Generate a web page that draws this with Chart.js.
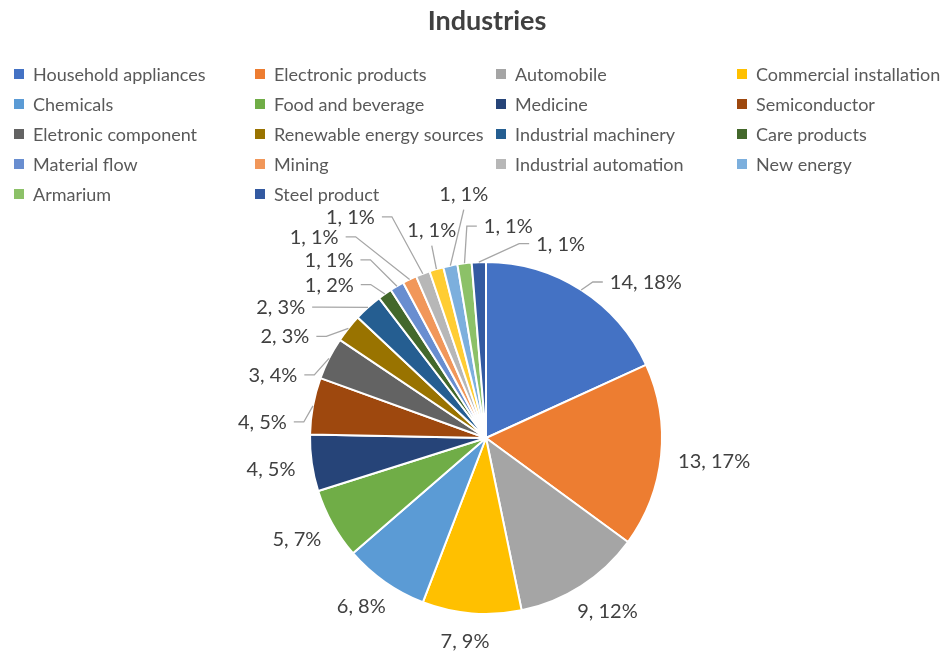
<!DOCTYPE html>
<html>
<head>
<meta charset="utf-8">
<title>Industries</title>
<script src="https://cdn.jsdelivr.net/npm/chart.js@4"></script>
<style>
  html, body { margin: 0; padding: 0; background: #fff; }
  #wrap { width: 944px; height: 655px; position: relative; }
</style>
</head>
<body>
<div id="wrap"><canvas id="pieChart"></canvas></div>
<script>
const industries = [
  "Household appliances", "Electronic products", "Automobile", "Commercial installation",
  "Chemicals", "Food and beverage", "Medicine", "Semiconductor",
  "Eletronic component", "Renewable energy sources", "Industrial machinery", "Care products",
  "Material flow", "Mining", "Industrial automation", "",
  "New energy", "Armarium", "Steel product"
];
const counts = [14, 13, 9, 7, 6, 5, 4, 4, 3, 2, 2, 1, 1, 1, 1, 1, 1, 1, 1];
const shares = ["18%", "17%", "12%", "9%", "8%", "7%", "5%", "5%", "4%", "3%", "3%", "2%",
  "1%", "1%", "1%", "1%", "1%", "1%", "1%"];
const colours = [
  "#4472C4", "#ED7D31", "#A5A5A5", "#FFC000", "#5B9BD5", "#70AD47", "#264478", "#9E480E",
  "#636363", "#997300", "#255E91", "#43682B", "#698ED0", "#F1975A", "#B7B7B7", "#FFCD33",
  "#7CAFDD", "#8CC168", "#335AA1"
];

// where each value label sits: [degrees clockwise from 12 o'clock, distance in pie radii]
const labelSpots = [
  [45.7, 1.269], [95.8, 1.303], [144.9, 1.2], [185.9, 1.16], [216.6, 1.189],
  [242, 1.217], [261.8, 1.234], [274.1, 1.274], [286.5, 1.263], [296.8, 1.28],
  [302.5, 1.383], [314.4, 1.246], [318.6, 1.349], [319.5, 1.503], [328.5, 1.474],
  [345.4, 1.223], [354.8, 1.394], [6, 1.211], [21, 1.183]
];

const pieDecor = {
  id: "pieDecor",
  afterDatasetsDraw(chart) {
    const ctx = chart.ctx;
    const arcs = chart.getDatasetMeta(0).data;
    ctx.save();
    ctx.font = "20px Lato";
    ctx.textAlign = "center";
    ctx.textBaseline = "alphabetic";
    ctx.strokeStyle = "#A6A6A6";
    ctx.lineWidth = 1.3;
    arcs.forEach((arc, i) => {
      const p = arc.getProps(["x", "y", "outerRadius", "startAngle", "endAngle"], true);
      const mid = (p.startAngle + p.endAngle) / 2;
      const ax = p.x + Math.cos(mid) * p.outerRadius;
      const ay = p.y + Math.sin(mid) * p.outerRadius;
      const [deg, dist] = labelSpots[i];
      const a = (deg - 90) * Math.PI / 180;
      const cx = p.x + Math.cos(a) * p.outerRadius * dist;
      const cy = p.y + Math.sin(a) * p.outerRadius * dist;
      const text = `${counts[i]}, ${shares[i]}`;
      const w = ctx.measureText(text).width;
      const box = { l: cx - w / 2, r: cx + w / 2, t: cy - 8, b: cy + 8 };

      // leader line only when the label has drifted away from its slice
      const nx = Math.max(box.l, Math.min(ax, box.r));
      const ny = Math.max(box.t, Math.min(ay, box.b));
      if (Math.hypot(ax - nx, ay - ny) > 24) {
        ctx.beginPath();
        if (ax >= box.l && ax <= box.r) {
          ctx.moveTo(cx, ay > cy ? box.b + 8 : box.t - 8);
        } else if (ax > box.r) {
          ctx.moveTo(box.r + 7, cy);
          ctx.lineTo(box.r + 17, cy);
        } else {
          ctx.moveTo(box.l - 7, cy);
          ctx.lineTo(box.l - 17, cy);
        }
        ctx.lineTo(ax, ay);
        ctx.stroke();
      }
      ctx.fillStyle = "#404040";
      ctx.fillText(text, cx, cy + 7);
    });
    ctx.restore();
  },
  afterDraw(chart) {
    const ctx = chart.ctx;
    ctx.save();
    ctx.fillStyle = "#404040";
    ctx.font = "bold 27px Lato";
    ctx.textAlign = "center";
    ctx.fillText("Industries", 487, 30);

    // legend grid, four columns
    ctx.font = "18px Lato";
    ctx.textAlign = "left";
    let k = 0;
    industries.forEach((name, i) => {
      if (!name) return;
      const x = 14 + (k % 4) * 241;
      const base = 81 + Math.floor(k / 4) * 30;
      ctx.fillStyle = colours[i];
      ctx.fillRect(x, base - 12, 10, 10);
      ctx.fillStyle = "#595959";
      ctx.fillText(name, x + 19, base);
      k++;
    });
    ctx.restore();
  }
};

const ctx = document.getElementById("pieChart").getContext("2d");
const pieChart = new Chart(ctx, {
  type: "pie",
  data: {
    labels: industries,
    datasets: [
      {
        data: counts,
        backgroundColor: colours,
        borderColor: "#ffffff",
        borderWidth: 2,
      },
    ],
  },
  options: {
    responsive: true,
    maintainAspectRatio: false,
    animation: false,
    events: [],
    layout: {
      padding: { top: 261, left: 309, right: 281, bottom: 40 },
    },
    plugins: {
      legend: { display: false },
      tooltip: { enabled: false },
    },
  },
  plugins: [pieDecor],
});
</script>
</body>
</html>
